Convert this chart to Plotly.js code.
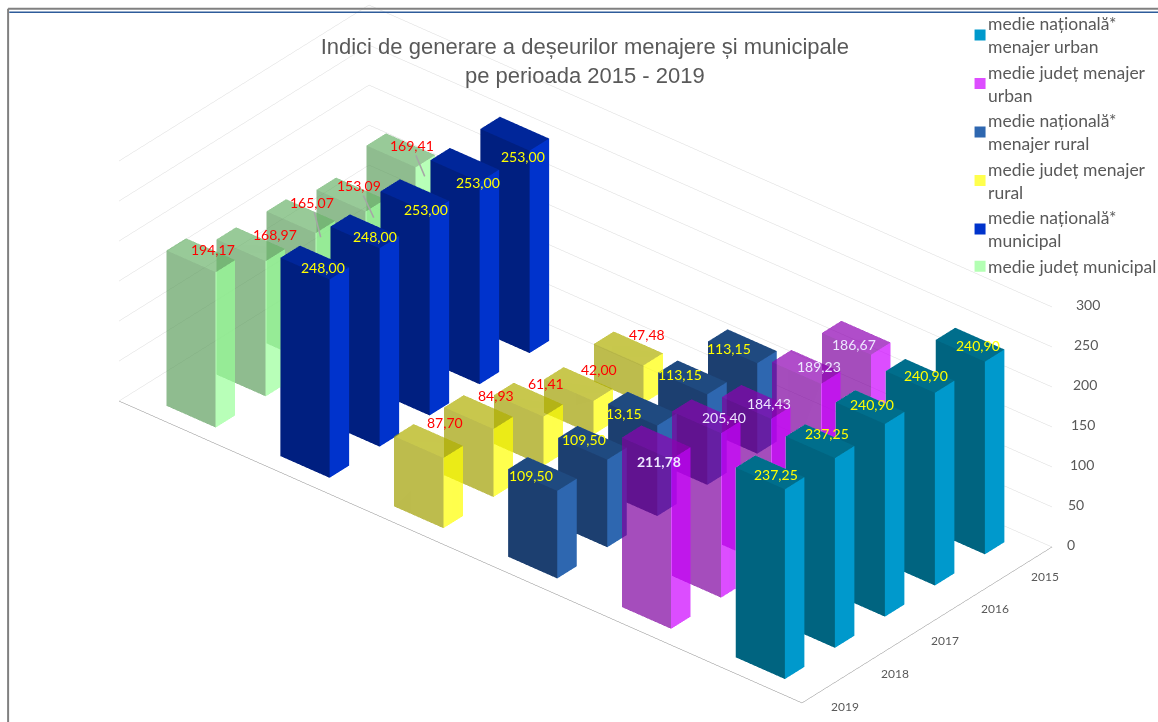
<!DOCTYPE html>
<html><head><meta charset="utf-8"><script src="https://cdn.plot.ly/plotly-3.0.1.min.js"></script>
<style>html,body{margin:0;padding:0;background:#fff}#c{width:1158px;height:722px}</style></head>
<body><div id="c"></div>
<script>
const years = ['2019','2018','2017','2016','2015'];
const seriesNames = ['medie județ municipal','medie națională*<br>municipal','medie județ menajer<br>rural','medie națională*<br>menajer rural','medie județ menajer<br>urban','medie națională*<br>menajer urban'];
const judetMunicipal = [194.17,168.97,165.07,153.09,169.41];
const nationalMunicipal = [248,248,253,253,253];
const judetRural = [87.70,84.93,61.41,42.00,47.48];
const nationalRural = [109.50,109.50,113.15,113.15,113.15];
const judetUrban = [211.78,205.40,184.43,189.23,186.67];
const nationalUrban = [237.25,237.25,240.90,240.90,240.90];
const values = [judetMunicipal,nationalMunicipal,judetRural,nationalRural,judetUrban,nationalUrban];
const zTicks = [0,50,100,150,200,250,300];
const sideColors = ['#99FF99','#0033CC','#FFFF00','#2E67B0','#CC00FF','#0099CC'];
const frontColors = ['#5F9F5F','#001F80','#A09F00','#1C3F70','#7E009E','#006480'];
const topColors = ['#6BB36B','#00269A','#B0AF00','#1F4A80','#8E00B2','#006E8C'];
const legendColors = ['#B3FFB3','#0033CC','#FFFF4D','#2E67B0','#DD4DFF','#0099CC'];
const opac = [0.7,1,0.7,1,0.7,1];
const legendRank = [6,5,4,3,2,1];
const labelColors = ['#FF0000','#FFFF00','#FF0000','#FFFF00','#EDE6FF','#FFFF00'];
// pixel nudges of the value labels, [dx,dy] screen px
const labelNudge = [
 [[12,-6],[24,-10],[20,21],[23,23],[24,26]],
 [[8,5],[10,5],[11,13],[13,18],[8,23]],
 [[17,-19],[18,-17],[18,-16],[21,-15],[19,-14]],
 [[-11,1],[-8,-3],[-18,5],[-12,-3],[-13,2]],
 [[3,19],[18,1],[13,1],[13,-1],[-2,7]],
 [[6,2],[7,-8],[2,-3],[6,-1],[8,1]]
];
// labels with a leader line: series, year index -> text offset from the line's end
const leaders = {'0,2':[-9,-35],'0,3':[-15,-32],'0,4':[-13,-31]};
const yearDy = [3,1,-1,-2,-2];
const hw = 0.216, hd = 0.195;
const traces = [], ann = [];
function fmt(v){return v.toFixed(2).replace('.',',');}
for(let j=4;j>=0;j--){
  for(let i=0;i<6;i++){
    const v = values[i][j];
    const x0=i-hw,x1=i+hw,y0=j-hd,y1=j+hd;
    traces.push({type:'mesh3d',
      x:[x0,x1,x1,x0,x0,x1,x1,x0],
      y:[y0,y0,y1,y1,y0,y0,y1,y1],
      z:[0,0,0,0,v,v,v,v],
      i:[0,0,1,1,4,4],
      j:[1,5,2,6,5,6],
      k:[5,4,6,5,6,7],
      facecolor:[frontColors[i],frontColors[i],sideColors[i],sideColors[i],topColors[i],topColors[i]],
      opacity:opac[i],flatshading:true,
      lighting:{ambient:1,diffuse:0,specular:0,roughness:1,fresnel:0},
      showlegend:false,hoverinfo:'skip'});
    let txt = fmt(v);
    if(i===3 && j===2) txt = txt.slice(1); // leading digit is hidden in the picture
    if(i===4 && j===0) txt = '<b>'+txt+'</b>';
    const n = labelNudge[i][j], l = leaders[i+','+j];
    const a = {x:i,y:j,z:v,text:txt,xshift:n[0],yshift:-n[1],showarrow:false,font:{family:'Lato',size:14,color:labelColors[i]}};
    if(l){a.showarrow=true;a.arrowhead=0;a.arrowcolor='#A6A6A6';a.arrowwidth=1.5;a.ax=l[0];a.ay=l[1];}
    ann.push(a);
  }
}
zTicks.forEach((t,k)=>ann.push({x:5.5,y:4.5,z:t,text:String(t),showarrow:false,xanchor:'left',xshift:13+1.5*k,yshift:3,font:{family:'Lato',size:14,color:'#595959'}}));
years.forEach((t,j)=>ann.push({x:5.5,y:j,z:0,text:t,showarrow:false,xshift:18,yshift:-16-yearDy[j],font:{family:'Lato',size:12,color:'#595959'}}));
for(let i=0;i<6;i++){
  traces.push({type:'scatter',x:[null],y:[null],mode:'markers',marker:{symbol:'square',size:11,color:legendColors[i]},name:seriesNames[i],legendrank:legendRank[i],hoverinfo:'skip'});
}
const w=[0.548,-0.651,0.525], r=3;
const layout = {
  width:1158,height:722,margin:{l:0,r:0,t:0,b:0,autoexpand:false},paper_bgcolor:'#fff',plot_bgcolor:'rgba(0,0,0,0)',
  title:{text:'Indici de generare a deșeurilor menajere și municipale<br>pe perioada 2015 - 2019',font:{family:'Liberation Sans',size:22,color:'#595959'},x:0.505,xanchor:'center',y:0.925,yanchor:'top'},
  showlegend:true,
  xaxis:{visible:false},yaxis:{visible:false},
  legend:{x:0.8187,y:0.992,xanchor:'left',yanchor:'top',font:{family:'Lato',size:17.5,color:'#595959'},bgcolor:'rgba(0,0,0,0)'},
  scene:{domain:{x:[0.011,1],y:[0.019,1]},aspectmode:'manual',aspectratio:{x:2.522,y:1.0966,z:0.7967},
    camera:{projection:{type:'orthographic'},eye:{x:w[0]*r,y:w[1]*r,z:w[2]*r},center:{x:0,y:0,z:0},up:{x:0,y:0,z:1}},
    xaxis:{range:[-0.5,5.5],showticklabels:false,showgrid:false,zeroline:false,showspikes:false,showline:true,linecolor:'#888',title:{text:''},ticks:''},
    yaxis:{range:[-0.5,4.5],tickvals:[0,1,2,3,4],showticklabels:false,showgrid:false,zeroline:false,showspikes:false,showline:true,linecolor:'#888',title:{text:''},ticks:''},
    zaxis:{range:[0,300],tickvals:zTicks,showticklabels:false,showgrid:true,gridcolor:'#d9d9d9',zeroline:false,showspikes:false,title:{text:''},ticks:''},
    annotations:ann},
  shapes:[
    {type:'line',xref:'paper',yref:'paper',x0:0.007,x1:0.007,y0:0,y1:0.988,line:{color:'#808080',width:2}},
    {type:'line',xref:'paper',yref:'paper',x0:0.007,x1:1,y0:0.988,y1:0.988,line:{color:'#808080',width:2}},
    {type:'line',xref:'paper',yref:'paper',x0:0.008,x1:1,y0:0.983,y1:0.983,line:{color:'#2E5C9A',width:1.5}}
  ]
};
Plotly.newPlot('c',traces,layout,{displayModeBar:false}).then(()=>{
  document.querySelectorAll('.legendpoints').forEach(g=>g.setAttribute('transform','translate(12,0)'));
});
</script></body></html>
